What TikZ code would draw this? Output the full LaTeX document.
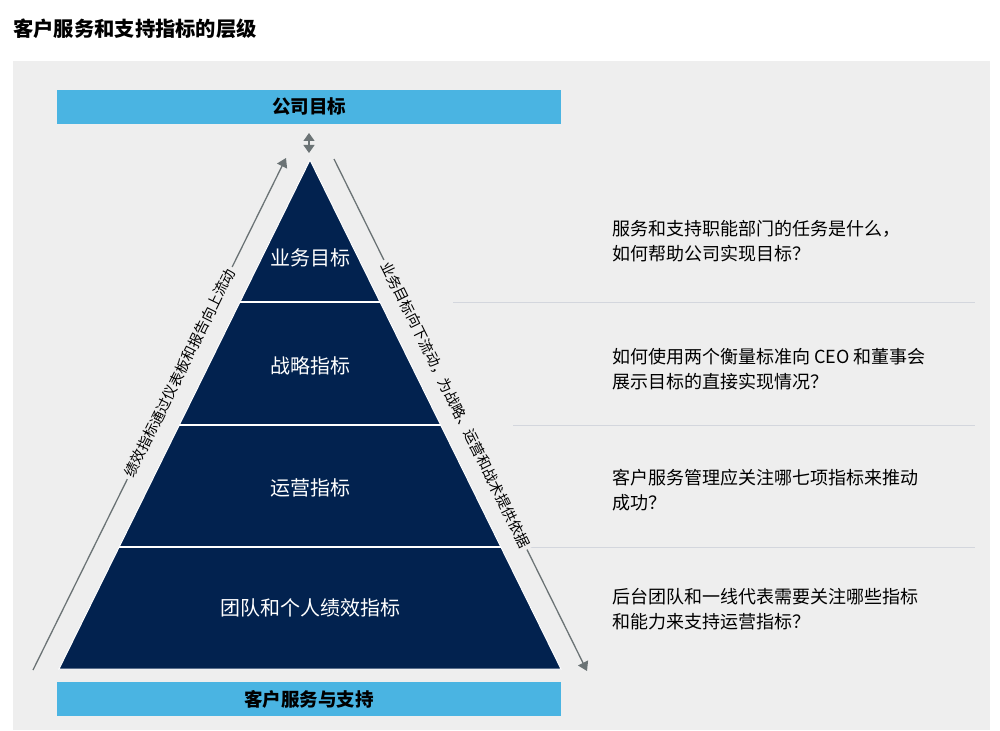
\documentclass[tikz,border=0pt]{standalone}
\usepackage{fontspec}
\setmainfont{Noto Sans CJK SC}
\usetikzlibrary{arrows.meta,calc}

\definecolor{panelgray}{HTML}{EEEEEE}
\definecolor{barblue}{HTML}{4AB4E2}
\definecolor{navy}{HTML}{02224F}
\definecolor{arrowgray}{HTML}{6B7375}
\definecolor{rulegray}{HTML}{D3D6DD}

\begin{document}
\begin{tikzpicture}[x=1pt,y=-1pt]
   \tikzstyle{bar}=[fill=barblue,inner sep=0pt,minimum width=504pt,minimum height=34pt,font=\fontsize{18.5}{22}\selectfont\bfseries]
   \tikzstyle{lvl}=[text=white,font=\fontsize{20}{24}\selectfont]
   \tikzstyle{qn}=[anchor=west,align=left,inner sep=0pt,font=\fontsize{18}{25}\selectfont]
   \tikzstyle{ar}=[draw=arrowgray,line width=1.3pt,-{Triangle[length=9pt,width=11pt]}]
   \tikzstyle{lab}=[sloped,fill=panelgray,inner sep=3pt,font=\fontsize{14.4}{16}\selectfont]
   \tikzstyle{sep}=[draw=white,line width=2pt]
   \tikzstyle{rule}=[draw=rulegray,line width=1pt]

   \useasboundingbox (0,0) rectangle (1000,730);
   \fill[panelgray] (13,61) rectangle (990,730);
   \node (title) [anchor=west,inner sep=0pt,font=\fontsize{20.3}{24}\selectfont\bfseries] at (13,29) {客户服务和支持指标的层级};

   % bars
   \node (goal) [bar] at (309,107) {公司目标};
   \node (base) [bar] at (309,699) {客户服务与支持};

   % pyramid
   \coordinate (apex) at (310,160);
   \coordinate (bl) at (59,669);
   \coordinate (br) at (561,669);
   \fill[navy,draw=white,line width=1pt] (apex) -- (bl) -- (br) -- cycle;
   \foreach \t in {0.279,0.5206,0.7603}
      \draw[sep] ($(apex)!\t!(bl)$) -- ($(apex)!\t!(br)$);
   \node (l1) [lvl] at (310,258) {业务目标};
   \node (l2) [lvl] at (310,366) {战略指标};
   \node (l3) [lvl] at (310,488) {运营指标};
   \node (l4) [lvl] at (310,608) {团队和个人绩效指标};

   % right column
   \draw[rule] (453,302) -- (975,302);
   \draw[rule] (513,425) -- (975,425);
   \draw[rule] (530,547) -- (975,547);
   \node (q1) [qn] at (612,241.5) {服务和支持职能部门的任务是什么，\\如何帮助公司实现目标？};
   \node (q2) [qn] at (612,369) {如何使用两个衡量标准向 CEO 和董事会\\展示目标的直接实现情况？};
   \node (q3) [qn] at (612,490.5) {客户服务管理应关注哪七项指标来推动\\成功？};
   \node (q4) [qn] at (612,609.5) {后台团队和一线代表需要关注哪些指标\\和能力来支持运营指标？};

   % flow arrows
   \coordinate (up0) at (33,670);
   \coordinate (up1) at (286,158);
   \coordinate (dn0) at (334,159);
   \coordinate (dn1) at (587,671);
   \draw[ar] (up0) -- node[lab,pos=0.58] {绩效指标通过仪表板和报告向上流动} (up1);
   \draw[ar] (dn0) -- node[lab,pos=0.48] {业务目标向下流动，为战略、运营和战术提供依据} (dn1);
   \coordinate (lk0) at (309,133);
   \coordinate (lk1) at (309,153);
   \draw[draw=arrowgray,line width=1.3pt,{Triangle[length=8pt,width=11pt]}-{Triangle[length=8pt,width=11pt]}] (lk0) -- (lk1);
\end{tikzpicture}
\end{document}
